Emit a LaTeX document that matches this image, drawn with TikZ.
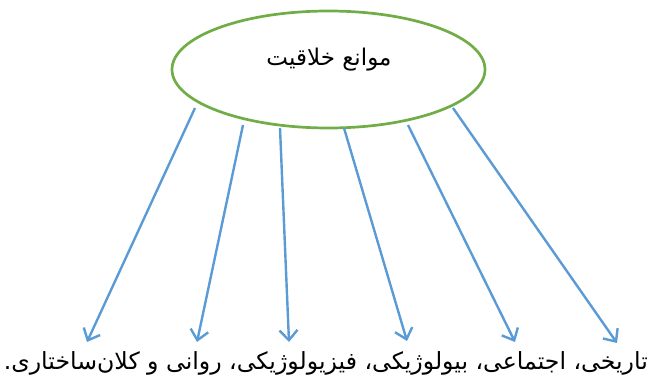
\documentclass[tikz,border=0pt]{standalone}
\usepackage{fontspec}
\usetikzlibrary{arrows.meta,shapes.geometric}
\TeXXeTstate=1
\newfontfamily\arabicfont[Script=Arabic]{DejaVu Sans}
\definecolor{ogreen}{HTML}{70AD47}
\definecolor{oblue}{HTML}{5B9BD5}
\tikzset{
  arr/.style={draw=oblue, line width=2.4pt, -{Straight Barb[length=10pt,width=18pt,line width=2.4pt]}},
  oval/.style={ellipse, draw=ogreen, line width=2.7pt, minimum width=313pt, minimum height=117pt, inner sep=0pt},
  lbl/.style={inner sep=0pt}
}
\begin{document}
\begin{tikzpicture}[x=1pt,y=1pt]
\useasboundingbox (0,0) rectangle (651,384);
\node[oval] (m) at (328.5,314.5) {};
\node[lbl] (t) at (329,324) {\arabicfont\fontsize{23}{26}\selectfont\beginR موانع خلاقیت\endR};
\node[lbl, anchor=base east] (b) at (648,15) {\arabicfont\fontsize{23.6}{26}\selectfont\beginR تاریخی، اجتماعی، بیولوژیکی، فیزیولوژیکی، روانی و کلان‌ساختاری.\endR};
\coordinate (s1) at (195,276);
\coordinate (s2) at (243,259);
\coordinate (s3) at (280,256);
\coordinate (s4) at (344,256);
\coordinate (s5) at (408,259);
\coordinate (s6) at (453,276);
\coordinate (e1) at (87,42);
\coordinate (e2) at (197,42);
\coordinate (e3) at (289,42);
\coordinate (e4) at (407,43);
\coordinate (e5) at (515,42);
\coordinate (e6) at (617,41);
\foreach \i in {1,...,6} {\draw[arr] (s\i) -- (e\i);}
\end{tikzpicture}
\end{document}
